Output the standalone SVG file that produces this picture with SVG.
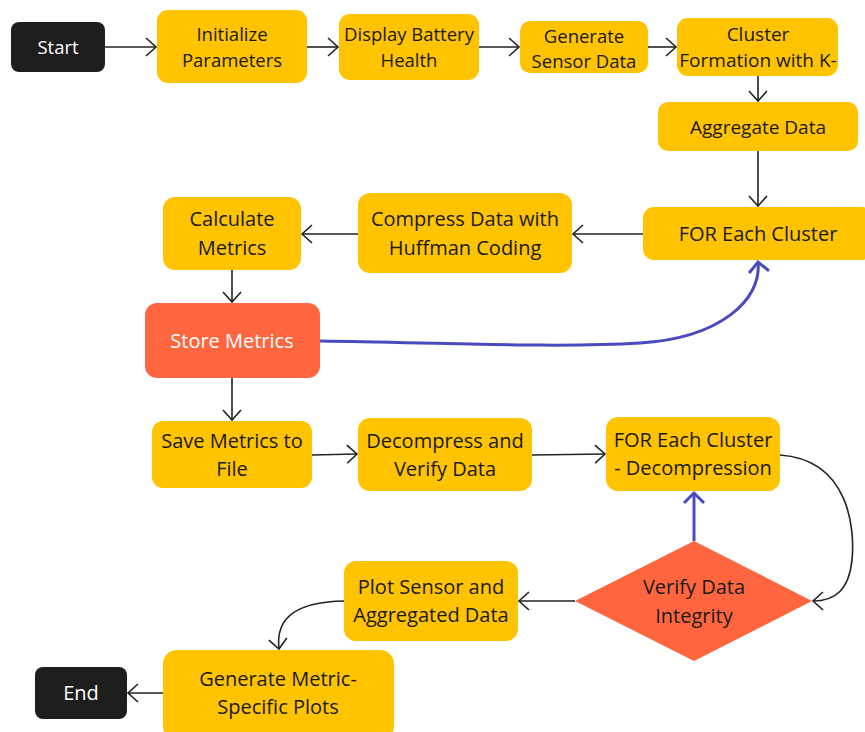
<svg xmlns="http://www.w3.org/2000/svg" width="865" height="732" viewBox="0 0 865 732">
<style>
.y{fill:#FFC300}
.o{fill:#FF6640}
.k{fill:#1E1E1E}
text{font-family:"Open Sans","Liberation Sans",sans-serif;font-size:20px;text-anchor:middle;fill:#1a1a1a}
.s{font-size:18.5px}
.w{fill:#ffffff}
.c{fill:none;stroke:#222;stroke-width:1.6}
.b{fill:none;stroke:#4A4AC0;stroke-width:3}
</style>
<defs>
<marker id="a" markerUnits="userSpaceOnUse" markerWidth="14" markerHeight="20" refX="11" refY="10" orient="auto" viewBox="0 0 14 20">
<path d="M1,1 L11,10 L1,19" fill="none" stroke="#222" stroke-width="1.6"/>
</marker>
<marker id="ab" markerUnits="userSpaceOnUse" markerWidth="16" markerHeight="24" refX="12" refY="12" orient="auto" viewBox="0 0 16 24">
<path d="M2,2 L12,12 L2,22" fill="none" stroke="#4A4AC0" stroke-width="3"/>
</marker>
</defs>
<g id="connectors">
<path class="c" d="M105,47 H156" marker-end="url(#a)"/>
<path class="c" d="M307,47 H338" marker-end="url(#a)"/>
<path class="c" d="M479,47 H519" marker-end="url(#a)"/>
<path class="c" d="M648,47 H676" marker-end="url(#a)"/>
<path class="c" d="M758,76 V101" marker-end="url(#a)"/>
<path class="c" d="M758,151 V206" marker-end="url(#a)"/>
<path class="c" d="M643,234 H573" marker-end="url(#a)"/>
<path class="c" d="M358,234 H302" marker-end="url(#a)"/>
<path class="c" d="M232,270 V302" marker-end="url(#a)"/>
<path class="b" d="M320,341 C450,343 560,348 640,343 C720,338 762,300 758,262" marker-end="url(#ab)"/>
<path class="c" d="M232,378 V420" marker-end="url(#a)"/>
<path class="c" d="M312,455 L357,454" marker-end="url(#a)"/>
<path class="c" d="M532,455 L605,454" marker-end="url(#a)"/>
<path class="c" d="M780,455 C850,460 855,530 852,560 C849,590 835,601 813,601" marker-end="url(#a)"/>
<path class="b" d="M694,541 V493" marker-end="url(#ab)"/>
<path class="c" d="M575,601 H519" marker-end="url(#a)"/>
<path class="c" d="M344,601 C300,602 275,615 279,649" marker-end="url(#a)"/>
<path class="c" d="M163,693 H128" marker-end="url(#a)"/>
</g>
<g id="start"><rect class="k" x="11" y="22" width="94" height="50" rx="8"/><text class="w s" x="58" y="54">Start</text></g>
<g id="init"><rect class="y" x="157" y="10" width="150" height="73" rx="11"/><text class="s" x="232" y="41">Initialize</text><text class="s" x="232" y="67">Parameters</text></g>
<g id="display"><rect class="y" x="339" y="14" width="140" height="66" rx="11"/><text class="s" x="409" y="41">Display Battery</text><text class="s" x="409" y="67">Health</text></g>
<g id="gensensor"><rect class="y" x="520" y="21" width="128" height="52" rx="10"/><text class="s" x="584" y="43">Generate</text><text class="s" x="584" y="68">Sensor Data</text></g>
<g id="cluster"><rect class="y" x="677" y="18" width="161" height="58" rx="11"/><text x="758" y="41" style="font-size:19px">Cluster</text><text x="758" y="67" style="font-size:19px">Formation with K-</text></g>
<g id="aggregate"><rect class="y" x="658" y="102" width="200" height="49" rx="10"/><text x="758" y="134" style="font-size:19px">Aggregate Data</text></g>
<g id="foreach"><rect class="y" x="643" y="207" width="230" height="53" rx="11"/><text x="758" y="241">FOR Each Cluster</text></g>
<g id="compress"><rect class="y" x="358" y="193" width="214" height="80" rx="12"/><text x="465" y="226">Compress Data with</text><text x="465" y="255">Huffman Coding</text></g>
<g id="calculate"><rect class="y" x="163" y="197" width="138" height="73" rx="12"/><text x="232" y="226">Calculate</text><text x="232" y="255">Metrics</text></g>
<g id="store"><rect class="o" x="145" y="303" width="175" height="75" rx="12"/><text class="w" x="232" y="348">Store Metrics</text></g>
<g id="save"><rect class="y" x="152" y="421" width="160" height="67" rx="11"/><text x="232" y="448">Save Metrics to</text><text x="232" y="476">File</text></g>
<g id="decompress"><rect class="y" x="358" y="418" width="174" height="73" rx="12"/><text x="445" y="448">Decompress and</text><text x="445" y="476">Verify Data</text></g>
<g id="foreachdec"><rect class="y" x="606" y="417" width="174" height="74" rx="12"/><text x="693" y="447">FOR Each Cluster</text><text x="693" y="475">- Decompression</text></g>
<g id="verify"><polygon class="o" points="694,541 812,601 694,661 575,601"/><text x="694" y="594">Verify Data</text><text x="694" y="623">Integrity</text></g>
<g id="plot"><rect class="y" x="344" y="561" width="174" height="80" rx="12"/><text x="431" y="594">Plot Sensor and</text><text x="431" y="622">Aggregated Data</text></g>
<g id="genplots"><rect class="y" x="163" y="650" width="231" height="90" rx="14"/><text x="278" y="686">Generate Metric-</text><text x="278" y="714">Specific Plots</text></g>
<g id="end"><rect class="k" x="35" y="667" width="92" height="52" rx="8"/><text class="w" x="81" y="700">End</text></g>
</svg>
